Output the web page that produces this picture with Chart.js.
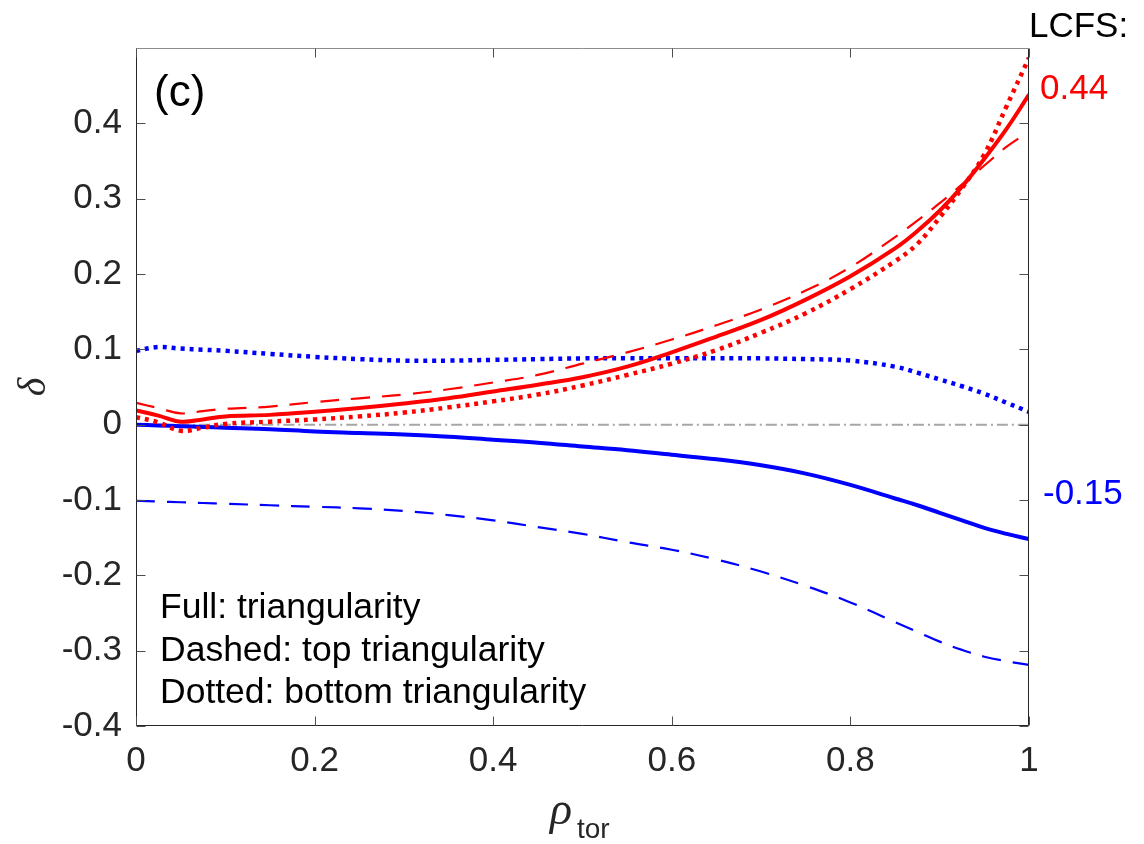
<!DOCTYPE html>
<html><head><meta charset="utf-8">
<script src="https://cdn.jsdelivr.net/npm/chart.js@4.4.0/dist/chart.umd.min.js"></script>
<style>html,body{margin:0;padding:0;background:#fff;}#wrap{width:1144px;height:844px;}</style>
</head><body><div id="wrap"><canvas id="c" width="1144" height="844"></canvas></div>
<script>
// ---- data ----
const rho = [0,0.025,0.05,0.075,0.1,0.15,0.2,0.25,0.3,0.35,0.4,0.45,0.5,0.55,0.6,0.65,0.7,0.75,0.8,0.85,0.875,0.9,0.925,0.95,0.975,1];
const triRed = [0.019,0.012,0.004,0.007,0.011,0.013,0.017,0.022,0.028,0.035,0.044,0.053,0.063,0.077,0.096,0.117,0.139,0.166,0.197,0.234,0.257,0.284,0.316,0.353,0.393,0.438];
const topRed = [0.029,0.022,0.015,0.018,0.021,0.024,0.030,0.035,0.040,0.047,0.056,0.066,0.081,0.096,0.113,0.132,0.153,0.178,0.209,0.249,0.271,0.294,0.319,0.344,0.369,0.389];
const botRed = [0.010,0.003,-0.008,-0.004,0.001,0.004,0.007,0.011,0.016,0.023,0.031,0.040,0.052,0.066,0.081,0.099,0.122,0.148,0.180,0.217,0.240,0.275,0.314,0.359,0.423,0.487];
const triBlue = [0.000,-0.001,-0.002,-0.003,-0.004,-0.006,-0.009,-0.011,-0.013,-0.016,-0.020,-0.024,-0.029,-0.034,-0.040,-0.046,-0.054,-0.065,-0.080,-0.098,-0.107,-0.117,-0.127,-0.137,-0.145,-0.152];
const topBlue = [-0.101,-0.102,-0.103,-0.104,-0.105,-0.107,-0.109,-0.111,-0.1145,-0.120,-0.127,-0.136,-0.145,-0.156,-0.166,-0.179,-0.195,-0.214,-0.236,-0.262,-0.275,-0.288,-0.299,-0.308,-0.314,-0.319];
const botBlue = [0.098,0.103,0.101,0.0995,0.098,0.094,0.090,0.087,0.085,0.085,0.086,0.087,0.088,0.088,0.088,0.088,0.088,0.087,0.085,0.077,0.069,0.060,0.051,0.041,0.029,0.017];
const zeroX = [0,1];
const zeroY = [0,0];
const xTicks = [0,0.2,0.4,0.6,0.8,1];
const yTicks = [-0.4,-0.3,-0.2,-0.1,0,0.1,0.2,0.3,0.4];
const panelLabel = '(c)';
const noteLines = ['Full: triangularity','Dashed: top triangularity','Dotted: bottom triangularity'];
const lcfsLabel = 'LCFS:';

const pts = (xs, ys) => xs.map((x,i)=>({x:x, y:ys[i]}));
const FONT = '"Liberation Sans", Arial, Helvetica, sans-serif';
const fmt = v => { const r = Math.round(v*10)/10; return r === 0 ? '0' : String(r); };

function ds(data, color, width, dash){
  return {data, borderColor:color, borderWidth:width, borderDash:dash, pointRadius:0,
          fill:false, tension:0.4, borderCapStyle:'butt', borderJoinStyle:'round'};
}

const boxPlugin = {
  id:'box',
  afterDatasetsDraw(chart){
    const {ctx, chartArea:a, scales:{x, y}} = chart;
    ctx.save();
    ctx.lineWidth = 1;
    ctx.strokeStyle = '#262626';
    const L = Math.round(a.left)+0.5, R = Math.round(a.right)-0.5, B = Math.round(a.bottom)-0.5, T = Math.round(a.top)+0.5;
    ctx.beginPath();
    ctx.moveTo(L, T); ctx.lineTo(L, B); ctx.lineTo(R, B); ctx.lineTo(R, T);
    ctx.stroke();
    ctx.strokeStyle = '#8c8c8c';
    ctx.beginPath(); ctx.moveTo(L, T); ctx.lineTo(R, T); ctx.stroke();
    const tl = 9;
    ctx.strokeStyle = '#4d4d4d';
    ctx.beginPath();
    yTicks.forEach(v => {
      const py = Math.round(y.getPixelForValue(v))+0.5;
      ctx.moveTo(L, py); ctx.lineTo(L+tl, py);
      ctx.moveTo(R, py); ctx.lineTo(R-tl, py);
    });
    xTicks.forEach(v => {
      const px = Math.round(x.getPixelForValue(v))+0.5;
      ctx.moveTo(px, B); ctx.lineTo(px, B-tl);
      ctx.moveTo(px, T); ctx.lineTo(px, T+tl);
    });
    ctx.stroke();
    ctx.restore();
  }
};

const textPlugin = {
  id:'texts',
  afterDraw(chart){
    const ctx = chart.ctx;
    ctx.save();
    ctx.textBaseline = 'alphabetic';
    ctx.textAlign = 'left';
    ctx.fillStyle = '#000';
    ctx.font = '44px ' + FONT;
    ctx.fillText(panelLabel, 154, 106);
    ctx.font = '35.5px ' + FONT;
    noteLines.forEach((t,i)=>ctx.fillText(t, 160, 618 + i*42.5));
    ctx.font = '35px ' + FONT;
    ctx.fillText(lcfsLabel, 1029, 37);
    ctx.fillStyle = '#ff0000';
    ctx.fillText(triRed[triRed.length-1].toFixed(2), 1040, 99);
    ctx.fillStyle = '#0000ff';
    ctx.fillText(triBlue[triBlue.length-1].toFixed(2), 1043, 504);
    // y label
    ctx.save();
    ctx.translate(45, 387);
    ctx.rotate(-Math.PI/2);
    ctx.textAlign = 'center';
    ctx.fillStyle = '#262626';
    ctx.font = 'italic 40px "Liberation Serif", "DejaVu Serif", serif';
    ctx.fillText('δ', 0, 0);
    ctx.restore();
    // x label
    ctx.fillStyle = '#262626';
    ctx.font = 'italic 46px "Liberation Serif", "DejaVu Serif", serif';
    ctx.fillText('ρ', 550, 824);
    ctx.font = '28px ' + FONT;
    ctx.fillText('tor', 577, 838);
    ctx.restore();
  }
};

new Chart(document.getElementById('c'), {
  type:'line',
  data:{datasets:[
    ds(pts(rho, triRed), '#ff0000', 4, []),
    ds(pts(rho, topRed), '#ff0000', 2.2, [19,12]),
    ds(pts(rho, botRed), '#ff0000', 4.5, [4,5]),
    ds(pts(rho, triBlue), '#0000ff', 4, []),
    ds(pts(rho, topBlue), '#0000ff', 2.2, [19,12]),
    ds(pts(rho, botBlue), '#0000ff', 4.5, [4,5]),
    ds(pts(zeroX, zeroY), '#a6a6a6', 2, [11,4,2,4])
  ]},
  options:{
    responsive:false, animation:false, devicePixelRatio:1,
    layout:{padding:{top:48, right:115, left:0, bottom:0}},
    plugins:{legend:{display:false}, tooltip:{enabled:false}},
    scales:{
      x:{type:'linear', min:0, max:1,
         afterBuildTicks:s=>{s.ticks = xTicks.map(v=>({value:v}));},
         afterFit:s=>{s.height = 118;},
         grid:{display:false, drawTicks:false}, border:{display:false},
         ticks:{padding:14, color:'#262626', font:{family:FONT, size:35}, callback:v=>fmt(v), maxRotation:0, autoSkip:false}},
      y:{type:'linear', min:-0.4, max:0.5,
         afterBuildTicks:s=>{s.ticks = yTicks.map(v=>({value:v}));},
         afterFit:s=>{s.width = 136;},
         grid:{display:false, drawTicks:false}, border:{display:false},
         ticks:{padding:14, color:'#262626', font:{family:FONT, size:35}, callback:v=>fmt(v), autoSkip:false}}
    }
  },
  plugins:[boxPlugin, textPlugin]
});
</script>
</body></html>
